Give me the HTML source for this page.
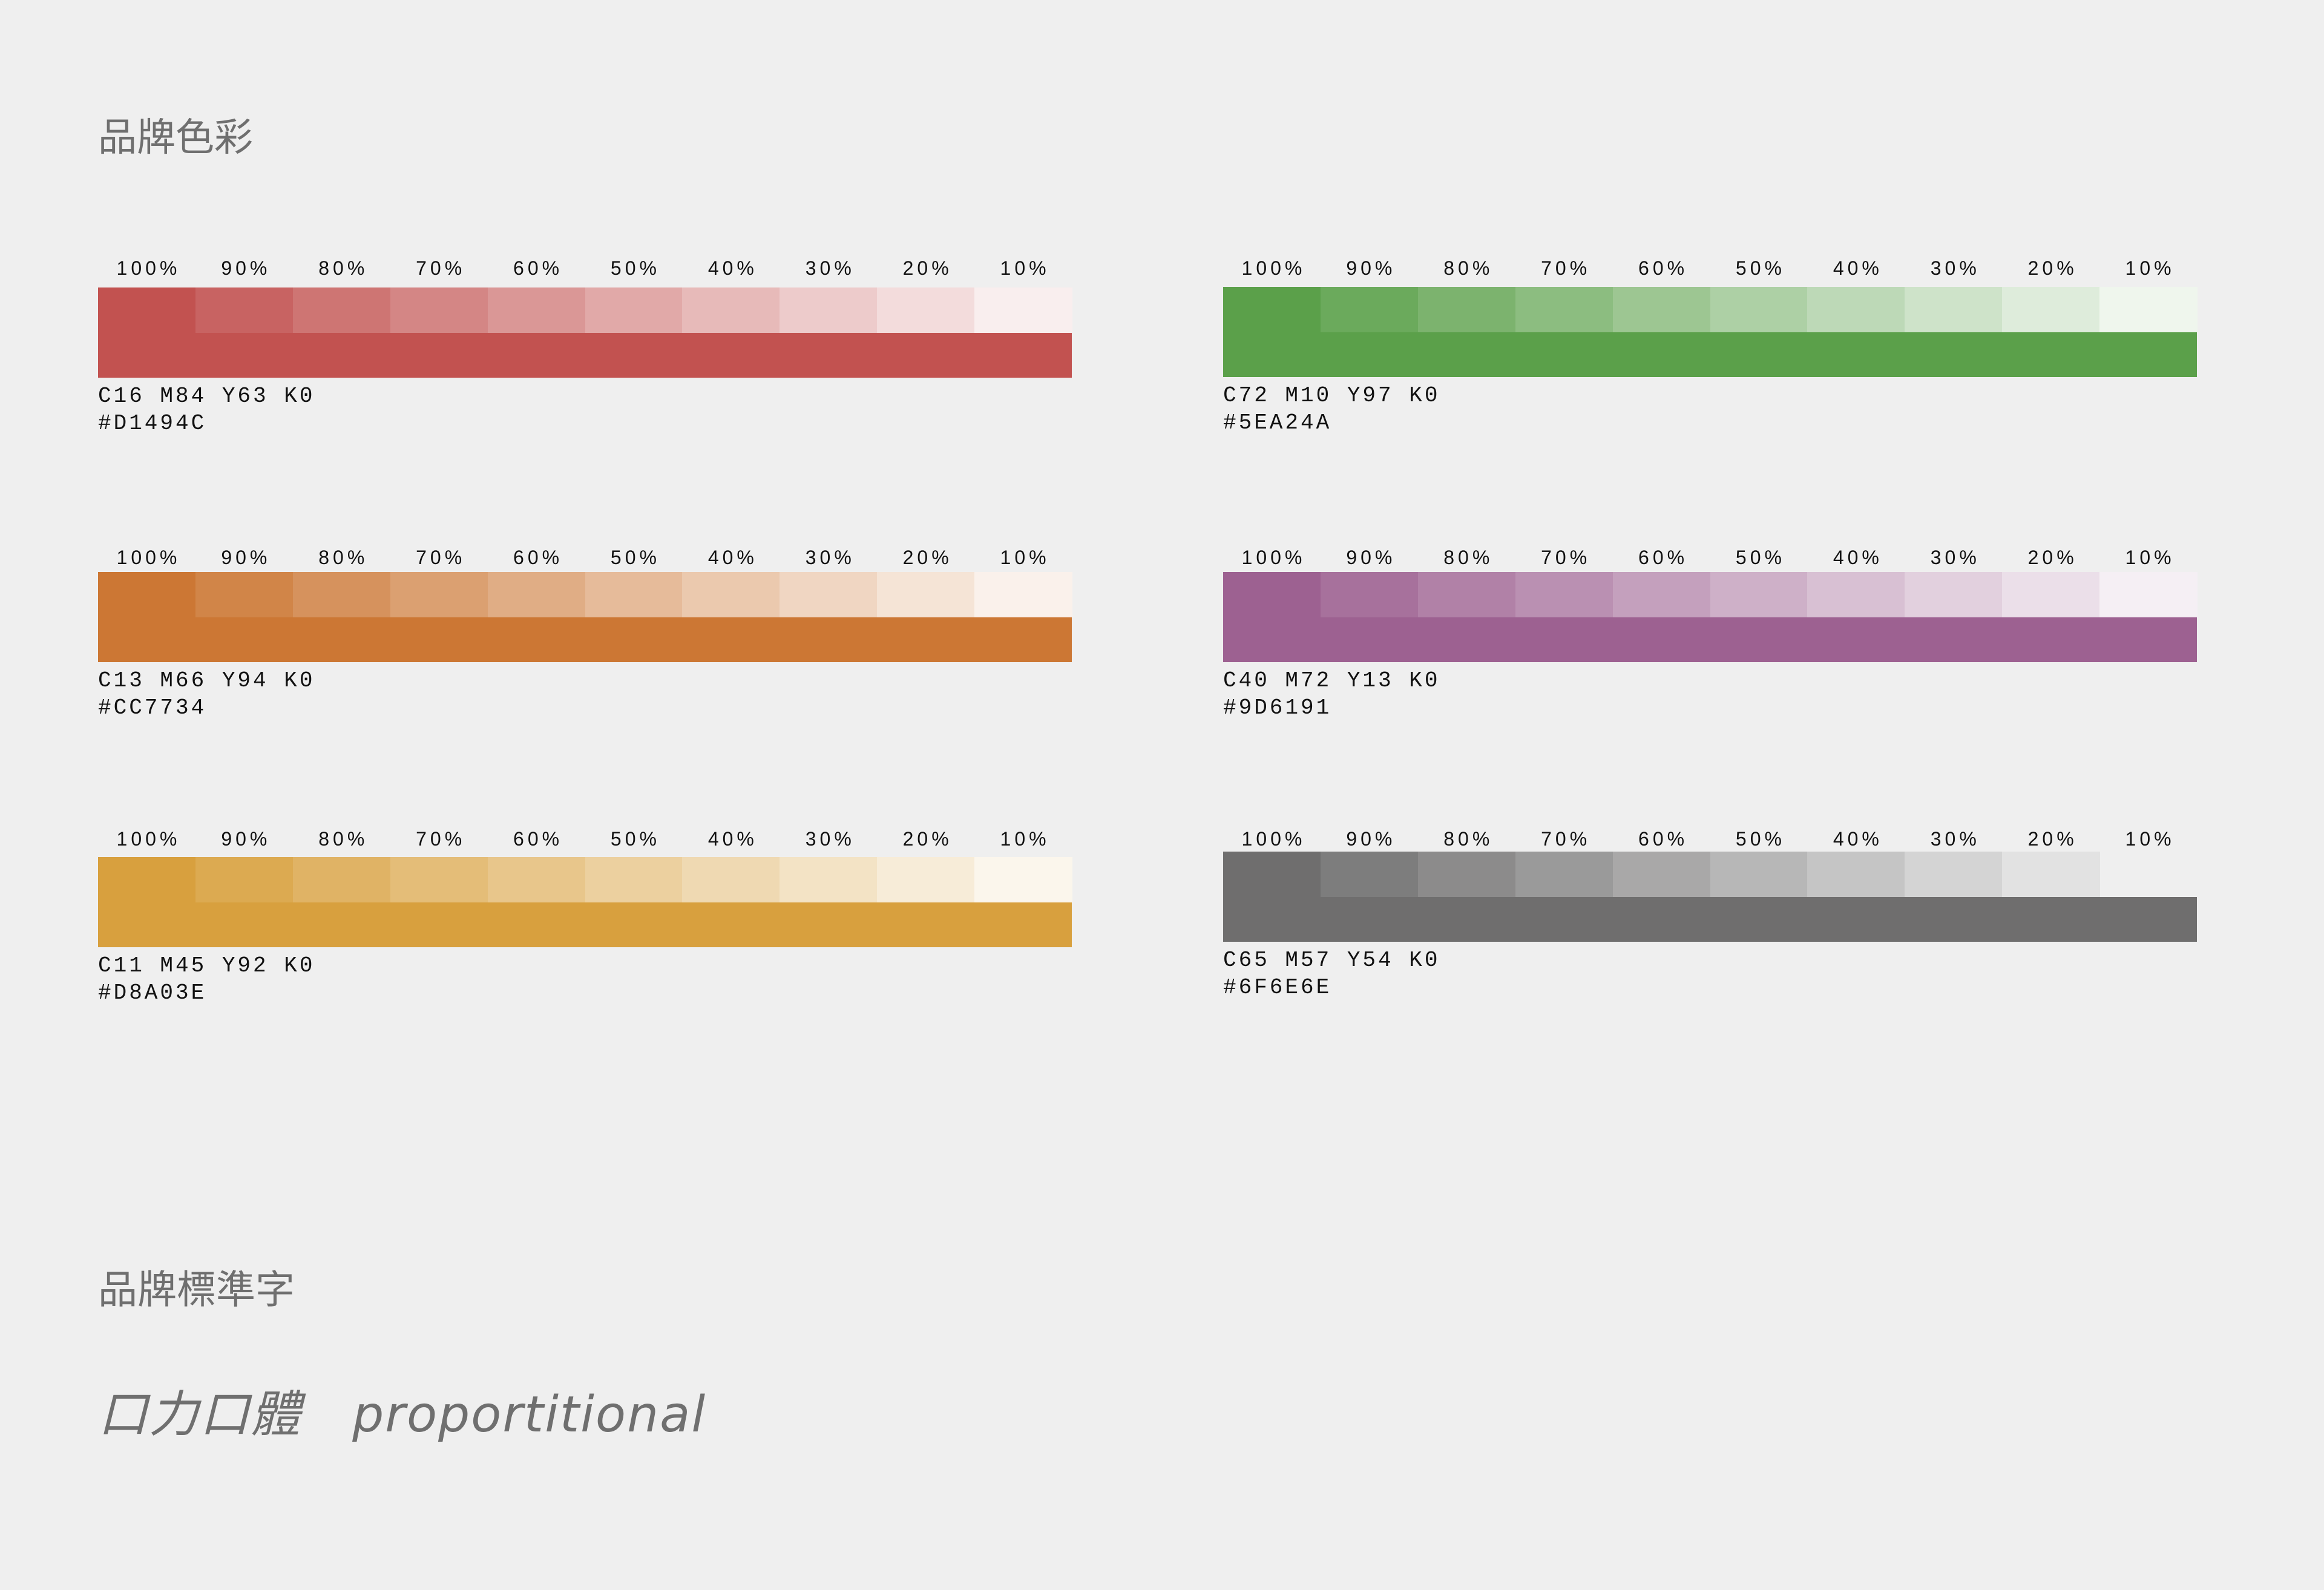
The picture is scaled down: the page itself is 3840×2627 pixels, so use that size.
<!DOCTYPE html>
<html><head><meta charset="utf-8">
<style>
html,body{margin:0;padding:0;}
body{width:3840px;height:2627px;background:#efefef;position:relative;overflow:hidden;font-family:"Liberation Sans","Noto Sans CJK TC",sans-serif;}
.t{position:absolute;white-space:nowrap;}
.title{color:#6f6f6f;font-size:64px;font-family:"Liberation Sans","Noto Sans CJK TC",sans-serif;}
.pct{font-size:32px;letter-spacing:6px;color:#111;transform:translateX(-50%);}
.info{font-size:36px;letter-spacing:4px;color:#111;font-family:"Liberation Mono","Liberation Sans",monospace;}
.sw{position:absolute;}
</style></head>
<body>
<div class="t title" style="left:162px;top:176px;">品牌色彩</div>
<div class="t title" style="left:162px;top:2078px;font-size:65px;">品牌標準字</div>
<div class="t" style="left:162px;top:2270px;font-size:82px;color:#6f6f6f;font-style:italic;font-family:'DejaVu Sans','Noto Sans CJK TC',sans-serif;letter-spacing:2px;">口力口體&nbsp;&nbsp; proportitional</div>
<div id="root"></div>
<script>
const names=['red','orange','yellow','green','purple','gray'];
const baseColors=['#C25250','#CC7734','#D8A03E','#5BA04A','#9D6191','#6F6E6E'];
const cmyk=['C16  M84  Y63  K0','C13  M66  Y94  K0','C11  M45  Y92  K0','C72  M10  Y97  K0','C40  M72  Y13  K0','C65  M57  Y54  K0'];
const hexes=['#D1494C','#CC7734','#D8A03E','#5EA24A','#9D6191','#6F6E6E'];
const percents=[100,90,80,70,60,50,40,30,20,10];
const lefts=[162,162,162,2021,2021,2021];
const tops=[475,945,1416,474,945,1407];
const labelTops=[425,903,1368,425,903,1368];
const W=1609, H1=75, H2=74;
function tint(hex,p){
  const n=parseInt(hex.slice(1),16);
  const c=[(n>>16)&255,(n>>8)&255,n&255].map(v=>Math.round(v*p+255*(1-p)));
  return 'rgb('+c.join(',')+')';
}
const root=document.getElementById('root');
names.forEach((nm,i)=>{
  const x0=lefts[i], y0=tops[i], sw=W/10;
  percents.forEach((p,j)=>{
    const lab=document.createElement('div');
    lab.className='t pct';
    lab.style.left=(x0+sw*j+sw/2+3)+'px';
    lab.style.top=labelTops[i]+'px';
    lab.textContent=p+'%';
    
    
    root.appendChild(lab);
    if(nm==='gray' && p===10) return;
    const s=document.createElement('div');
    s.className='sw';
    s.style.left=(x0+sw*j)+'px';
    s.style.top=y0+'px';
    s.style.width=(sw+0.6)+'px';
    s.style.height=H1+'px';
    s.style.background=tint(baseColors[i],p/100);
    
    
    root.appendChild(s);
  });
  const b=document.createElement('div');
  b.className='sw';
  b.style.left=x0+'px';b.style.top=(y0+H1)+'px';b.style.width=W+'px';b.style.height=H2+'px';
  b.style.background=baseColors[i];
  
  
  root.appendChild(b);
  const c=document.createElement('div');
  c.className='t info';
  c.style.left=x0+'px';c.style.top=(y0+H1+H2+10)+'px';
  c.textContent=cmyk[i];
  
  
  root.appendChild(c);
  const h=document.createElement('div');
  h.className='t info';
  h.style.left=x0+'px';h.style.top=(y0+H1+H2+55)+'px';
  h.textContent=hexes[i];
  
  
  root.appendChild(h);
});
</script>
</body></html>
